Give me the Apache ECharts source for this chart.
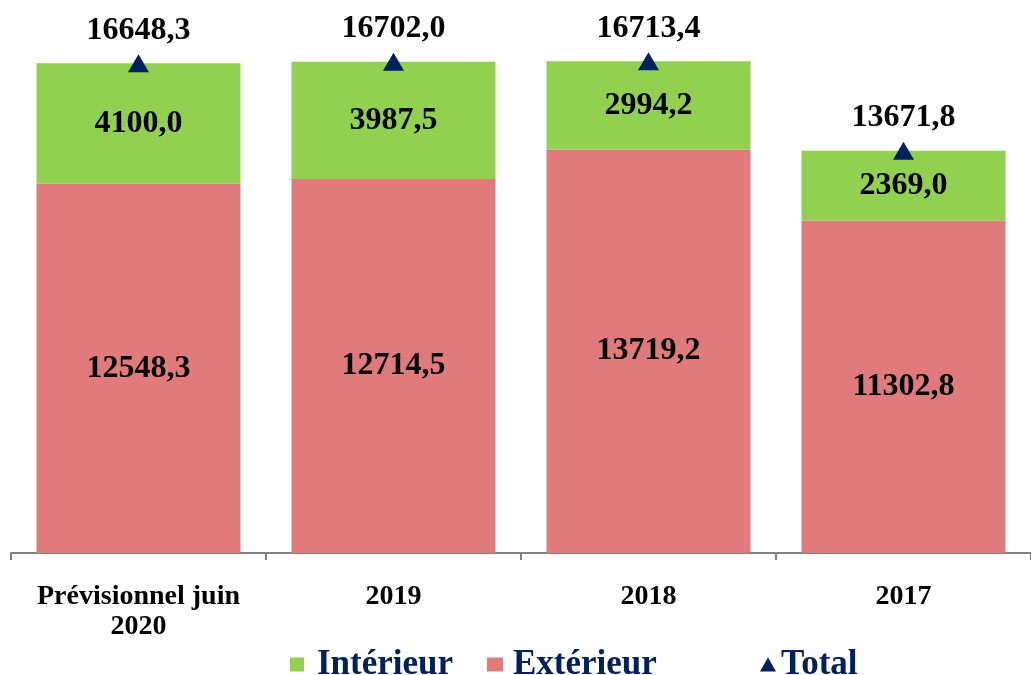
<!DOCTYPE html>
<html>
<head>
<meta charset="utf-8">
<script src="https://cdn.jsdelivr.net/npm/echarts@6/dist/echarts.min.js"></script>
<style>
  html, body { margin: 0; padding: 0; background: #fff; }
  #chart { width: 1031px; height: 675px; }
</style>
</head>
<body>
<div id="chart"></div>
<script>
const categories = ['Prévisionnel juin\n2020', '2019', '2018', '2017']
const exterieur = [12548.3, 12714.5, 13719.2, 11302.8]
const interieur = [4100.0, 3987.5, 2994.2, 2369.0]
const totals = [16648.3, 16702.0, 16713.4, 13671.8]

const fmt = v => v.toFixed(1).replace('.', ',')
const serif = '"Liberation Serif", "Times New Roman", serif'

// legend text, with a small extra gap after the icon
function legendText(gap) {
  const base = {
    color: '#002060',
    fontSize: 35,
    fontWeight: 'bold',
    fontFamily: serif
  }
  return Object.assign({}, base, {
    rich: { t: Object.assign({}, base, { padding: [0, 0, 0, gap] }) }
  })
}
const legendFmt = name => '{t|' + name + '}'

const valueLabel = {
  show: true,
  position: 'inside',
  color: '#000',
  fontSize: 32,
  fontWeight: 'bold',
  fontFamily: serif,
  formatter: p => fmt(p.value)
}

const chart = echarts.init(document.getElementById('chart'))

chart.setOption({
  animation: false,
  textStyle: { fontFamily: serif },
  grid: {
    left: 11,
    width: 1022,
    top: 23.5,
    bottom: 122
  },
  legend: [
    {
      left: 285, top: 642, itemWidth: 14, itemHeight: 14,
      textStyle: legendText(8), formatter: legendFmt,
      data: [{ name: 'Intérieur', icon: 'rect' }]
    },
    {
      left: 482, top: 642, itemWidth: 16, itemHeight: 14,
      textStyle: legendText(5), formatter: legendFmt,
      data: [{ name: 'Extérieur', icon: 'rect' }]
    },
    {
      left: 755, top: 642, itemWidth: 16, itemHeight: 14,
      textStyle: legendText(0), formatter: legendFmt,
      data: [{ name: 'Total', icon: 'triangle' }]
    }
  ],
  xAxis: {
    type: 'category',
    data: categories,
    axisLine: { lineStyle: { color: '#808080', width: 2 } },
    axisTick: { show: true, length: 7, lineStyle: { color: '#808080', width: 2 } },
    axisLabel: {
      color: '#000',
      fontSize: 28,
      fontWeight: 'bold',
      fontFamily: serif,
      margin: 29,
      lineHeight: 30,
      interval: 0
    }
  },
  yAxis: {
    type: 'value',
    min: 0,
    max: 18000,
    show: false,
    splitLine: { show: false }
  },
  series: [
    {
      name: 'Extérieur',
      type: 'bar',
      stack: 'total',
      barWidth: '80%',
      data: exterieur,
      itemStyle: { color: '#E17B7B' },
      label: valueLabel
    },
    {
      name: 'Intérieur',
      type: 'bar',
      stack: 'total',
      barWidth: '80%',
      data: interieur,
      itemStyle: { color: '#92D050' },
      label: valueLabel
    },
    {
      name: 'Total',
      type: 'scatter',
      data: totals,
      symbol: 'triangle',
      symbolSize: [21, 18],
      itemStyle: { color: '#002060', opacity: 1 },
      label: {
        show: true,
        position: 'top',
        distance: 8,
        color: '#000',
        fontSize: 32,
        fontWeight: 'bold',
        fontFamily: serif,
        formatter: p => fmt(p.value)
      },
      z: 5
    }
  ]
})
</script>
</body>
</html>
